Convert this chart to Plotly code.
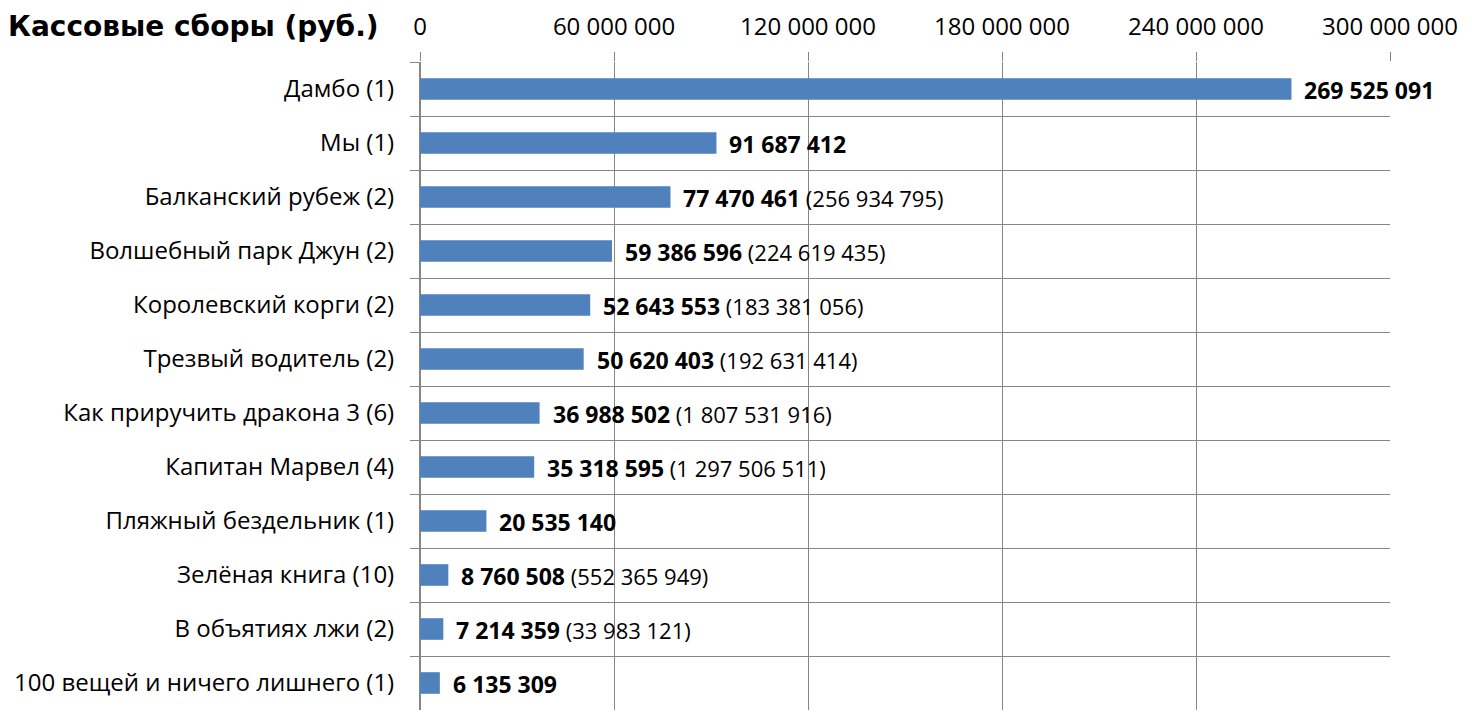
import plotly.graph_objects as go

films = ['Дамбо (1)', 'Мы (1)', 'Балканский рубеж (2)', 'Волшебный парк Джун (2)',
         'Королевский корги (2)', 'Трезвый водитель (2)', 'Как приручить дракона 3 (6)',
         'Капитан Марвел (4)', 'Пляжный бездельник (1)', 'Зелёная книга (10)',
         'В объятиях лжи (2)', '100 вещей и ничего лишнего (1)']
weekend = [269525091, 91687412, 77470461, 59386596, 52643553, 50620403,
           36988502, 35318595, 20535140, 8760508, 7214359, 6135309]
total = [None, None, 256934795, 224619435, 183381056, 192631414,
         1807531916, 1297506511, None, 552365949, 33983121, None]

FONT = 'Open Sans'
GRID = '#868686'


def fmt(v):
    return '{:,}'.format(v).replace(',', ' ')


labels = []
for w, t in zip(weekend, total):
    s = '<b><span style="font-size:23px">' + fmt(w) + '</span></b>'
    if t is not None:
        s += ' (' + fmt(t) + ')'
    labels.append(s)

fig = go.Figure(go.Bar(x=weekend, y=films, orientation='h', width=0.4,
                       marker=dict(color='#4F81BD', line=dict(width=0)),
                       hoverinfo='skip'))

for f, w, s in zip(films, weekend, labels):
    fig.add_annotation(x=w, y=f, text=s, showarrow=False, xanchor='left',
                       xshift=11, yshift=-1,
                       font=dict(size=22, color='black', family=FONT))

# the page body has an 8px margin, so the figure is 8px smaller and shifted
fig.update_layout(
    width=1464, height=719,
    margin=dict(l=412, r=82, t=54, b=17),
    paper_bgcolor='white', plot_bgcolor='white',
    separators='. ',
    showlegend=False,
    font=dict(family=FONT, size=24, color='black'),
    title=dict(text='<b>Кассовые сборы (руб.)</b>', x=0, xref='container',
               xanchor='left', y=0.975, yref='container', yanchor='middle',
               font=dict(size=28, family='DejaVu Sans', color='black')),
    xaxis=dict(side='top', range=[0, 300000000], dtick=60000000, tickformat=',d',
               showgrid=True, gridcolor=GRID, gridwidth=1,
               zeroline=True, zerolinecolor=GRID, zerolinewidth=1,
               ticks='outside', ticklen=9, tickcolor=GRID,
               showline=False, ticklabelstandoff=7, automargin=False,
               tickfont=dict(size=24)),
    yaxis=dict(autorange='reversed', tickson='boundaries', showgrid=True,
               gridcolor=GRID, gridwidth=1, ticks='outside', ticklen=9,
               tickcolor=GRID, showline=True, linecolor=GRID, linewidth=1,
               ticklabelstandoff=20, automargin=False, tickfont=dict(size=24)),
)

fig.write_html('out.html')
